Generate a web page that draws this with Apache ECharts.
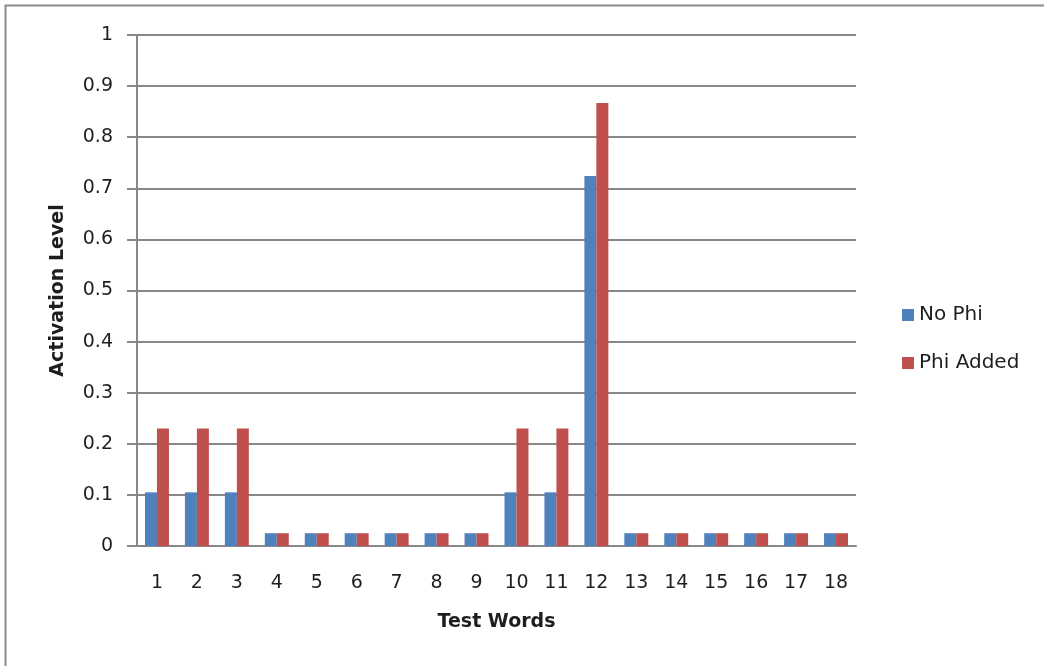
<!DOCTYPE html>
<html>
<head>
<meta charset="utf-8">
<script src="https://cdn.jsdelivr.net/npm/echarts@6/dist/echarts.min.js"></script>
<style>
  html, body { margin: 0; padding: 0; background: #fff; }
  #chart { width: 1044px; height: 666px; }
</style>
</head>
<body>
<div id="chart"></div>
<script>
// Test words on the x axis
const categories = ['1','2','3','4','5','6','7','8','9','10','11','12','13','14','15','16','17','18'];
// Activation levels per word
const noPhi = [0.105, 0.105, 0.105, 0.025, 0.025, 0.025, 0.025, 0.025, 0.025, 0.105, 0.105, 0.724, 0.025, 0.025, 0.025, 0.025, 0.025, 0.025];
const phiAdded = [0.23, 0.23, 0.23, 0.025, 0.025, 0.025, 0.025, 0.025, 0.025, 0.23, 0.23, 0.867, 0.025, 0.025, 0.025, 0.025, 0.025, 0.025];
const seriesNames = ['No Phi', 'Phi Added'];

const FONT = '"DejaVu Sans", Verdana, sans-serif';
const TEXT = '#1e1e1e';
const chart = echarts.init(document.getElementById('chart'), null, { renderer: 'canvas' });

chart.setOption({
  backgroundColor: '#ffffff',
  animation: false,
  graphic: [{
    type: 'rect',
    shape: { x: 5.5, y: 5.5, width: 1100, height: 700 },
    style: { fill: 'none', stroke: '#8c8c8c', lineWidth: 2 },
    silent: true
  }],
  grid: { left: 137, right: 188, top: 35, bottom: 120, containLabel: false },
  legend: {
    orient: 'vertical',
    left: 897,
    top: 300,
    itemGap: 28,
    itemWidth: 12,
    itemHeight: 12,
    icon: 'rect',
    textStyle: { fontFamily: FONT, fontSize: 20, color: TEXT },
    data: seriesNames
  },
  xAxis: {
    type: 'category',
    data: categories,
    name: 'Test Words',
    nameLocation: 'middle',
    nameGap: 67,
    nameTextStyle: { fontFamily: FONT, fontSize: 19, fontWeight: 'bold', color: TEXT },
    axisLine: { lineStyle: { color: '#888', width: 2 } },
    axisTick: { show: false },
    axisLabel: { fontFamily: FONT, fontSize: 19, color: TEXT, margin: 28 }
  },
  yAxis: {
    type: 'value',
    min: 0,
    max: 1,
    interval: 0.1,
    name: 'Activation Level',
    nameLocation: 'middle',
    nameGap: 69,
    nameTextStyle: { fontFamily: FONT, fontSize: 19, fontWeight: 'bold', color: TEXT },
    axisLine: { show: true, lineStyle: { color: '#888', width: 2 } },
    axisTick: { show: true, length: 10, lineStyle: { color: '#888', width: 2 } },
    splitLine: { lineStyle: { color: '#888', width: 2 } },
    axisLabel: {
      fontFamily: FONT, fontSize: 19, color: TEXT, margin: 24,
      formatter: v => String(Math.round(v * 10) / 10)
    }
  },
  series: [
    {
      name: seriesNames[0], type: 'bar', data: noPhi,
      barGap: '0%', barCategoryGap: '40%',
      itemStyle: { color: '#4F81BD' }
    },
    {
      name: seriesNames[1], type: 'bar', data: phiAdded,
      barGap: '0%', barCategoryGap: '40%',
      itemStyle: { color: '#C0504D' }
    }
  ]
});
</script>
</body>
</html>
